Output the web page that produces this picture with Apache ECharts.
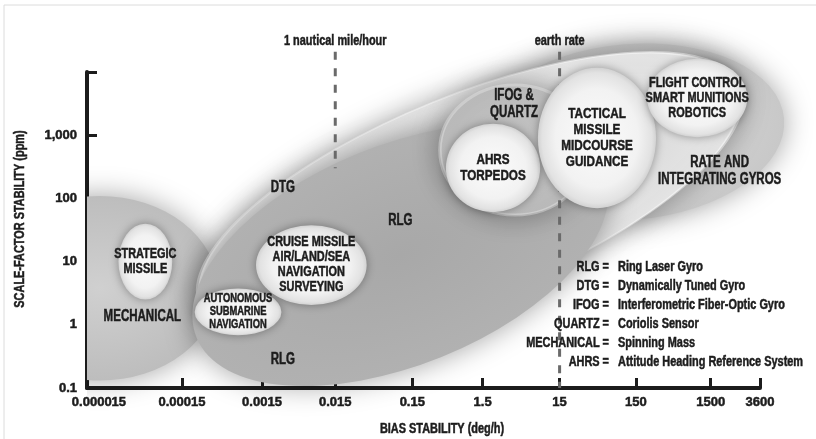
<!DOCTYPE html>
<html>
<head>
<meta charset="utf-8">
<title>gyro applications</title>
<script src="https://cdn.jsdelivr.net/npm/echarts@6.0.0/dist/echarts.min.js"></script>
<style>
  html, body { margin: 0; padding: 0; background: #fff; }
  #chart { width: 816px; height: 439px; }
</style>
</head>
<body>
<div id="chart"></div>
<script>
// x axis: the figure spaces its decades by hand, so x is a position along the axis (one step ~ one decade)
var xTickLabels = ['0.000015', '0.00015', '0.0015', '0.015', '0.15', '1.5', '15', '150', '1500', '3600'];
var xTickPos = [0, 1.27, 2.34, 3.32, 4.35, 5.29, 6.32, 7.34, 8.34, 9];
var xLabelPos = [0.16, 1.27, 2.34, 3.32, 4.35, 5.29, 6.32, 7.34, 8.34, 9];
var yTickLabels = ['0.1', '1', '10', '100', '1,000', ''];

// technology zones: centre (x position, ppm), half width (x steps), half height (decades), tilt (deg)
var techNames = ['MECHANICAL', 'RATE', 'DTG', 'RLG', 'IFOG'];
var techX = [0.17, 7.26, 5.12, 4.19, 5.72];
var techY = [3.8, 1125, 113, 12.7, 583];
var techRx = [1.58, 2.07, 3.88, 2.94, 1.0];
var techRy = [1.46, 1.39, 1.58, 1.74, 1.03];
var techTilt = [0, 5, 22, 22, 0];

// applications
var appNames = ['STRATEGIC\nMISSILE', 'AUTONOMOUS\nSUBMARINE\nNAVIGATION', 'CRUISE MISSILE\nAIR/LAND/SEA\nNAVIGATION\nSURVEYING',
  'AHRS\nTORPEDOS', 'TACTICAL\nMISSILE\nMIDCOURSE\nGUIDANCE', 'FLIGHT CONTROL\nSMART MUNITIONS\nROBOTICS'];
var appX = [0.78, 2.02, 3.0, 5.43, 6.82, 8.16];
var appY = [10, 1.6, 8.8, 303, 903, 3880];
var appRx = [0.36, 0.58, 0.74, 0.63, 0.79, 0.67];
var appRy = [0.6, 0.37, 0.63, 0.7, 1.11, 0.62];

// zone labels
var zoneText = ['MECHANICAL', 'DTG', 'RLG', 'RLG', 'IFOG &\nQUARTZ', 'RATE AND\nINTEGRATING GYROS'];
var zoneX = [0.74, 2.62, 4.19, 2.62, 5.71, 8.46];
var zoneY = [1.33, 146, 45, 0.28, 3120, 272];

// reference lines
var refNames = ['1 nautical mile/hour', 'earth rate'];
var refX = [3.32, 6.32];
var refTop = [21000, 21000];
var refBottom = [300, 0.1];

var legendTerms = ['RLG', 'DTG', 'IFOG', 'QUARTZ', 'MECHANICAL', 'AHRS'];
var legendMeanings = ['Ring Laser Gyro', 'Dynamically Tuned Gyro', 'Interferometric Fiber-Optic Gyro',
  'Coriolis Sensor', 'Spinning Mass', 'Attitude Heading Reference System'];

var FONT = "'Liberation Sans', Arial, sans-serif";
var INK = '#1c1c1c';
var NARROW = 0.78; // the original face is a condensed bold

var techStyle = [
  { c0: '#d0d0d0', c1: '#bdbdbd', stroke: null },
  { c0: '#dcdcdc', c1: '#c8c8c8', stroke: null },
  { c0: '#c8c8c8', c1: '#e6e6e6', stroke: 'rgba(255,255,255,0.45)' },
  { c0: '#a8a8a8', c1: '#b1b1b1', stroke: null },
  { c0: '#c2c2c2', c1: '#bcbcbc', stroke: 'rgba(235,235,235,0.4)' }
];
var appFont = [14, 12, 14, 15, 15, 14];

function txt(x, y, text, size, align, extra) {
  var el = {
    type: 'text', x: x, y: y, scaleX: NARROW,
    style: { text: text, font: 'bold ' + size + 'px ' + FONT, lineHeight: size + 1, fill: INK,
      stroke: INK, lineWidth: 0.5, align: align || 'center', verticalAlign: 'middle' }
  };
  if (extra) for (var k in extra) el[k] = extra[k];
  return el;
}

function ellipseGeom(api, x, y, rx, ry) {
  var c = api.coord([x, y]);
  var ux = api.coord([x + 1, y])[0] - c[0];
  var ryPx = c[1] - api.coord([x, y * Math.pow(10, ry)])[1];
  return { cx: c[0], cy: c[1], rx: rx * ux, ry: ryPx };
}

function ellipseEl(g, tilt, style) {
  return {
    type: 'circle',
    x: g.cx, y: g.cy,
    rotation: tilt * Math.PI / 180,
    scaleX: g.rx / g.ry,
    shape: { cx: 0, cy: 0, r: g.ry },
    style: style
  };
}

var chart = echarts.init(document.getElementById('chart'));

var techData = techNames.map(function (n, i) { return [techX[i], techY[i], techRx[i], techRy[i], techTilt[i]]; });
var appData = appNames.map(function (n, i) { return [appX[i], appY[i], appRx[i], appRy[i]]; });
var zoneData = zoneText.map(function (n, i) { return [zoneX[i], zoneY[i]]; });
var refData = refNames.map(function (n, i) { return [refX[i], refTop[i], refBottom[i]]; });

var option = {
  backgroundColor: '#fff',
  animation: false,
  grid: { left: 87, right: 56, top: 72, bottom: 51 },
  xAxis: {
    type: 'value', min: 0, max: 9,
    axisLine: { lineStyle: { color: INK, width: 4 } },
    axisTick: { inside: true, length: 10, customValues: xTickPos, lineStyle: { color: INK, width: 3 } },
    axisLabel: {
      customValues: xLabelPos, margin: 8,
      fontFamily: FONT, fontWeight: 'bold', fontSize: 13, color: INK,
      textBorderColor: INK, textBorderWidth: 0.5,
      formatter: function (v) {
        var best = 0;
        for (var i = 0; i < xLabelPos.length; i++) {
          if (Math.abs(xLabelPos[i] - v) < Math.abs(xLabelPos[best] - v)) best = i;
        }
        return xTickLabels[best];
      }
    },
    splitLine: { show: false }
  },
  yAxis: {
    type: 'log', logBase: 10, min: 0.1, max: 10000,
    axisLine: { show: true, lineStyle: { color: INK, width: 4 } },
    axisTick: { show: true, inside: true, length: 10, lineStyle: { color: INK, width: 3 } },
    axisLabel: {
      margin: 10, fontFamily: FONT, fontWeight: 'bold', fontSize: 13, color: INK,
      textBorderColor: INK, textBorderWidth: 0.5,
      formatter: function (v) { return yTickLabels[Math.round(Math.log10(v)) + 1]; }
    },
    splitLine: { show: false }
  },
  graphic: [
    { type: 'line', shape: { x1: 4, y1: 5, x2: 816, y2: 5 }, style: { stroke: '#dcdcdc', lineWidth: 1 } },
    { type: 'line', shape: { x1: 4, y1: 5, x2: 4, y2: 439 }, style: { stroke: '#dcdcdc', lineWidth: 1 } },
    txt(20, 219, 'SCALE-FACTOR STABILITY (ppm)', 14, 'center', { rotation: Math.PI / 2 }),
    txt(442, 429, 'BIAS STABILITY (deg/h)', 14, 'center')
  ].concat(legendTerms.map(function (t, i) {
    return txt(609, 267 + 19 * i, t + ' =', 14, 'right', { z: 10 });
  })).concat(legendMeanings.map(function (t, i) {
    return txt(618, 267 + 19 * i, t, 14, 'left', { z: 10 });
  })),
  series: [
    {
      type: 'custom', name: 'technology', z: 2,
      data: techData,
      renderItem: function (params, api) {
        var i = params.dataIndex;
        var g = ellipseGeom(api, api.value(0), api.value(1), api.value(2), api.value(3));
        var st = techStyle[i];
        var el = ellipseEl(g, api.value(4), {
          fill: new echarts.graphic.RadialGradient(0.5, 0.5, 0.5, [
            { offset: 0, color: st.c0 }, { offset: 1, color: st.c1 }
          ]),
          stroke: st.stroke, lineWidth: st.stroke ? 3 : 0, strokeNoScale: true,
          shadowBlur: 28, shadowColor: 'rgba(0,0,0,0.36)'
        });
        if (i === 0) {
          var cs = params.coordSys;
          return { type: 'group', children: [el],
            clipPath: { type: 'rect', shape: { x: cs.x, y: 0, width: cs.width, height: 439 } } };
        }
        return el;
      }
    },
    {
      type: 'custom', name: 'reference', z: 3,
      data: refData,
      renderItem: function (params, api) {
        var top = api.coord([api.value(0), api.value(1)]);
        var bot = api.coord([api.value(0), api.value(2)]);
        return { type: 'group', children: [
          { type: 'line', shape: { x1: top[0], y1: top[1], x2: bot[0], y2: bot[1] },
            style: { stroke: '#6a6a6a', lineWidth: 3, lineDash: [8, 8.5] } },
          txt(top[0], top[1] - 10, refNames[params.dataIndex], 14, 'center')
        ] };
      }
    },
    {
      type: 'custom', name: 'application', z: 4,
      data: appData,
      renderItem: function (params, api) {
        var i = params.dataIndex;
        var g = ellipseGeom(api, api.value(0), api.value(1), api.value(2), api.value(3));
        return { type: 'group', children: [
          ellipseEl(g, 0, {
            fill: new echarts.graphic.RadialGradient(0.5, 0.5, 0.5, [
              { offset: 0, color: '#fbfbfb' }, { offset: 0.7, color: '#f2f2f2' },
              { offset: 0.93, color: '#e2e2e2' }, { offset: 1, color: '#d2d2d2' }
            ]),
            shadowBlur: 10, shadowColor: 'rgba(0,0,0,0.35)'
          }),
          txt(g.cx, g.cy, appNames[i], appFont[i], 'center')
        ] };
      }
    },
    {
      type: 'custom', name: 'zones', z: 5,
      data: zoneData,
      renderItem: function (params, api) {
        var p = api.coord([api.value(0), api.value(1)]);
        var el = txt(p[0], p[1], zoneText[params.dataIndex], 16, 'center');
        el.scaleX = 0.72;
        return el;
      }
    }
  ]
};
chart.setOption(option);
</script>
</body>
</html>
